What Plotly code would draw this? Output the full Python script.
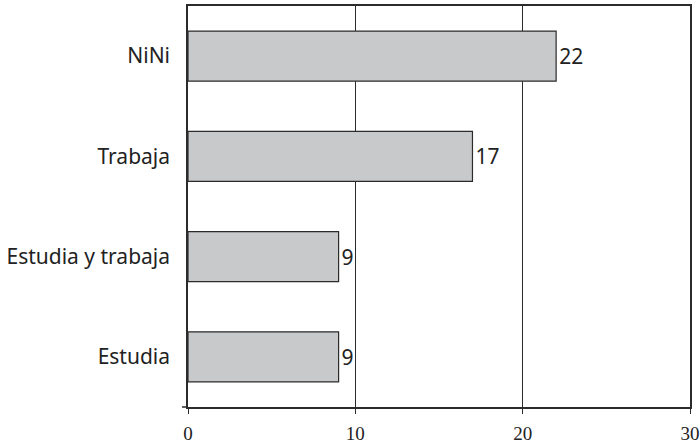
import plotly.graph_objects as go

categories = ["Estudia", "Estudia y trabaja", "Trabaja", "NiNi"]
values = [9, 9, 17, 22]
x_ticks = [0, 10, 20, 30]

line_col = "#2b2b2b"
text_col = "#222222"

fig = go.Figure(
    go.Bar(
        x=values,
        y=categories,
        orientation="h",
        width=0.5,
        marker=dict(color="#c8c9cb", line=dict(color=line_col, width=1.2)),
        text=[str(v) for v in values],
        textposition="outside",
        textfont=dict(family="Noto Sans", size=21, color=text_col),
        cliponaxis=False,
    )
)

fig.update_layout(
    width=700,
    height=446,
    margin=dict(l=188, r=10, t=6, b=39, autoexpand=False),
    plot_bgcolor="white",
    paper_bgcolor="white",
    showlegend=False,
    xaxis=dict(
        range=[0, 30],
        automargin=False,
        tickvals=x_ticks,
        ticktext=[str(t) for t in x_ticks],
        showgrid=True,
        gridcolor=line_col,
        gridwidth=1.2,
        zeroline=False,
        showline=True,
        linecolor=line_col,
        linewidth=1.5,
        mirror=True,
        ticks="outside",
        ticklen=5,
        tickcolor=line_col,
        tickwidth=1.2,
        ticklabelstandoff=3,
        tickfont=dict(family="Liberation Serif", size=19, color=text_col),
    ),
    yaxis=dict(
        categoryorder="array",
        categoryarray=categories,
        range=[-0.5, 3.5],
        automargin=False,
        showgrid=False,
        zeroline=False,
        showline=True,
        linecolor=line_col,
        linewidth=1.5,
        mirror=True,
        ticks="",
        ticklabelstandoff=12,
        tickfont=dict(family="Noto Sans", size=21, color=text_col),
    ),
)

# small extension of the bottom axis line to the left of the origin
fig.add_shape(
    type="line", xref="x domain", yref="y domain",
    x0=-0.012, x1=0, y0=0, y1=0,
    line=dict(color=line_col, width=1.5),
)

fig.write_html(
    "out.html",
    config={"displayModeBar": False},
    post_script="document.body.style.margin='0';document.body.style.overflow='hidden';",
)
